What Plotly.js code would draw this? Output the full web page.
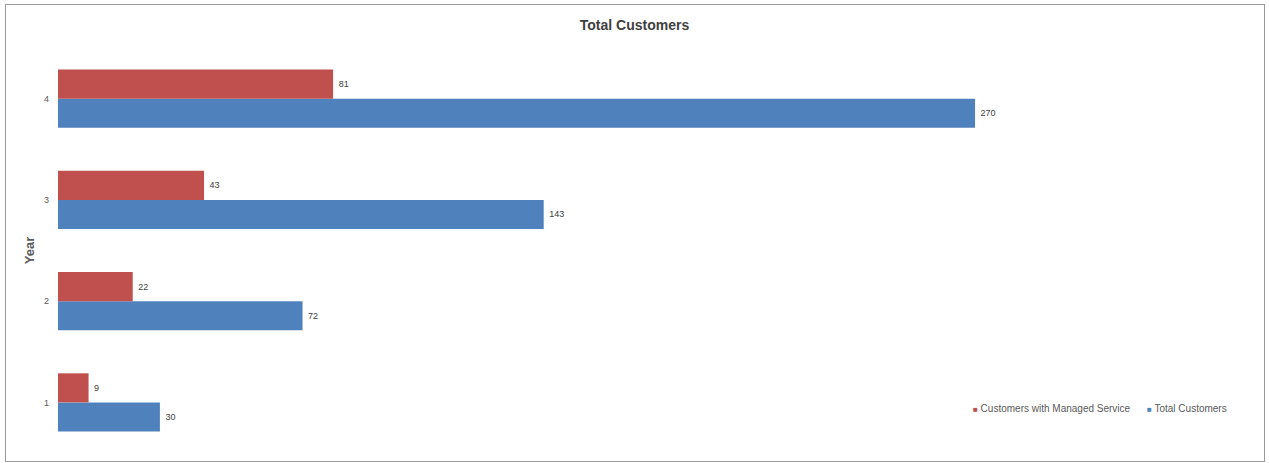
<!DOCTYPE html>
<html>
<head>
<meta charset="utf-8">
<script src="https://cdn.plot.ly/plotly-3.0.1.min.js"></script>
<style>
html,body{margin:0;padding:0;background:#fff;}
#chart{width:1269px;height:463px;}
#frame{position:absolute;left:5px;top:4px;width:1258px;height:456px;border:1.5px solid #9a9a9a;pointer-events:none;}
</style>
</head>
<body>
<div id="chart"></div>
<div id="frame"></div>
<script>
const years = ['1', '2', '3', '4'];
const managedService = [9, 22, 43, 81];
const totalCustomers = [30, 72, 143, 270];
const seriesNames = ['Customers with Managed Service', 'Total Customers'];
const seriesColors = ['#C0504D', '#4F81BD'];

const textFont = {family: 'Liberation Sans, Arial, sans-serif', size: 9, color: '#404040'};

const data = [
  {
    type: 'bar', orientation: 'h', name: seriesNames[1],
    y: years, x: totalCustomers,
    text: totalCustomers.map(v => ' ' + v), textposition: 'outside', cliponaxis: false,
    textfont: textFont, showlegend: false,
    marker: {color: seriesColors[1]}
  },
  {
    type: 'bar', orientation: 'h', name: seriesNames[0],
    y: years, x: managedService,
    text: managedService.map(v => ' ' + v), textposition: 'outside', cliponaxis: false,
    textfont: textFont, showlegend: false,
    marker: {color: seriesColors[0]}
  }
];

// legend drawn as compact annotations (small swatch right next to the label)
const legendX = [0.7725, 0.9195];
const annotations = seriesNames.map((n, i) => ({
  xref: 'paper', yref: 'paper', x: legendX[i], y: 0.111,
  xanchor: 'left', yanchor: 'middle', showarrow: false,
  text: '<span style="color:' + seriesColors[i] + ';font-size:8px">■</span> ' + n,
  font: {size: 10, color: '#595959', family: 'Liberation Sans, Arial, sans-serif'}
}));

const layout = {
  width: 1269, height: 463,
  margin: {l: 58, r: 29, t: 48, b: 10},
  paper_bgcolor: '#fff', plot_bgcolor: '#fff',
  barmode: 'group', bargap: 0.426, bargroupgap: 0,
  font: {family: 'Liberation Sans, Arial, sans-serif', color: '#595959'},
  title: {text: '<b>Total Customers</b>', x: 0.5, xanchor: 'center', y: 0.945, yanchor: 'middle',
          font: {size: 14, color: '#404040', family: 'Liberation Sans, Arial, sans-serif'}},
  xaxis: {range: [0, 348], visible: false, showgrid: false, zeroline: false, fixedrange: true},
  yaxis: {
    type: 'category', range: [-0.5, 3.5],
    showline: false, showgrid: false, zeroline: false, ticks: '',
    tickfont: {size: 9, color: '#595959'}, ticklabelstandoff: 8,
    title: {text: '<b>Year</b>', font: {size: 13, color: '#595959'}, standoff: 6}
  },
  showlegend: false,
  annotations: annotations
};

Plotly.newPlot('chart', data, layout, {staticPlot: true, displayModeBar: false});
</script>
</body>
</html>
